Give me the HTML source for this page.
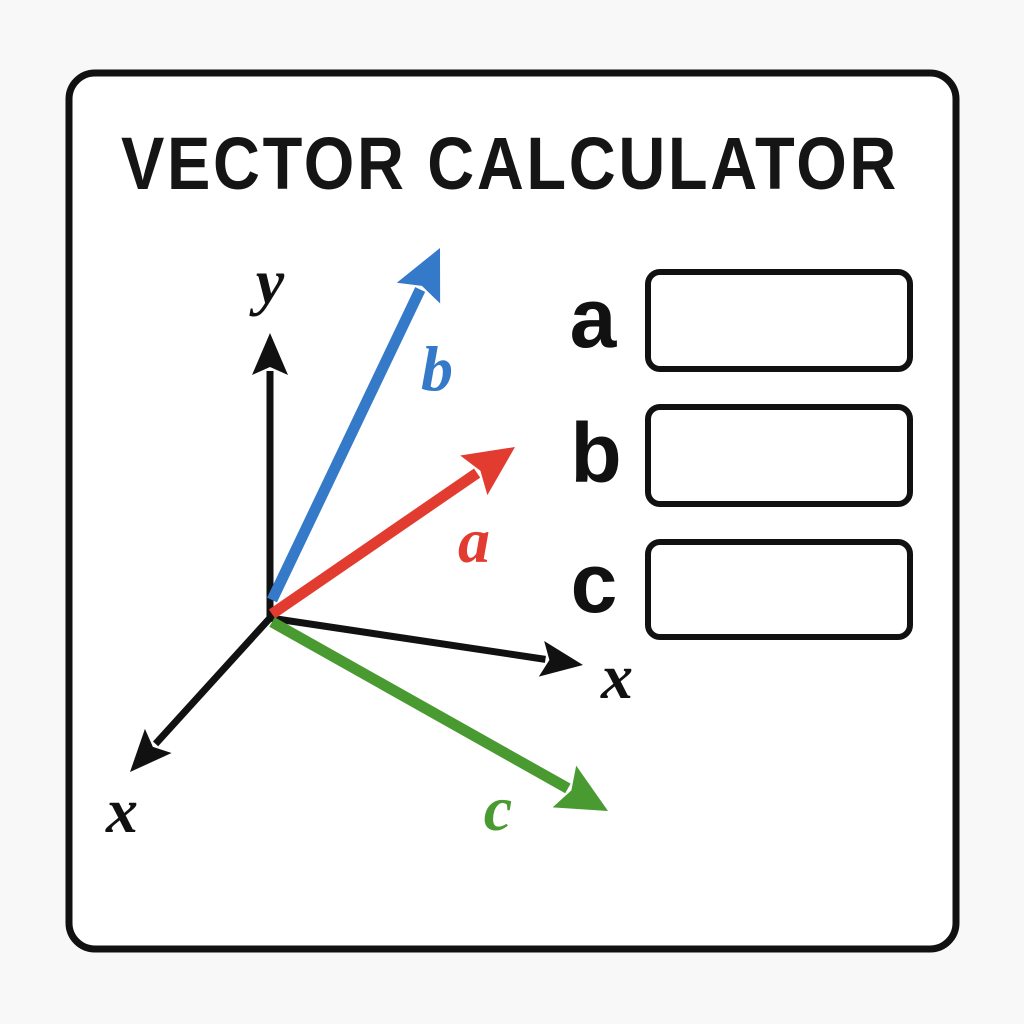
<!DOCTYPE html>
<html><head><meta charset="utf-8"><style>
html,body{margin:0;padding:0;background:#f8f8f8;}
svg{display:block}
</style></head><body>
<svg id="svg" width="1024" height="1024" viewBox="0 0 1024 1024">
<rect x="0" y="0" width="1024" height="1024" fill="#f8f8f8"/>
<rect x="69" y="73" width="887" height="876" rx="26" fill="#fff" stroke="#111" stroke-width="7"/>
<text x="510" y="189" text-anchor="middle" font-family="Liberation Sans, sans-serif" font-weight="bold" font-size="74" letter-spacing="3" textLength="778" lengthAdjust="spacingAndGlyphs" fill="#151515">VECTOR CALCULATOR</text>
<g id="vecs"></g>
<g>
<text x="593" y="347" text-anchor="middle" font-family="Liberation Sans, sans-serif" font-weight="bold" font-size="84" fill="#111">a</text>
<rect x="648" y="272" width="262" height="97" rx="12" fill="#fff" stroke="#111" stroke-width="6"/>
</g>
<g>
<text x="596" y="482" text-anchor="middle" font-family="Liberation Sans, sans-serif" font-weight="bold" font-size="84" fill="#111">b</text>
<rect x="648" y="407" width="262" height="97" rx="12" fill="#fff" stroke="#111" stroke-width="6"/>
</g>
<g>
<text x="594" y="612" text-anchor="middle" font-family="Liberation Sans, sans-serif" font-weight="bold" font-size="84" fill="#111">c</text>
<rect x="648" y="542" width="262" height="95" rx="12" fill="#fff" stroke="#111" stroke-width="6"/>
</g>
</svg>
<script>
const vecNames = ['y-axis','x-axis-right','x-axis-left','vector-b','vector-a','vector-c'];
const vecStart = [[270,618],[270,618],[270,618],[272,600],[272,614],[272,622]];
const vecEnd = [[270,333],[583,665],[130,772],[440,248],[515,447],[608,811]];
const vecColor = ['#111','#111','#111','#3579c9','#e23c30','#4a9a32'];
const vecWidth = [7,7,7,11,11,11];
const lblText = ['y','x','x','b','a','c'];
const lblPos = [[270,303],[617,698],[122,832],[437,390],[474,562],[498,830]];
const NS='http://www.w3.org/2000/svg';
const g=document.getElementById('vecs');
for(let i=0;i<vecNames.length;i++){
  const [x1,y1]=vecStart[i],[x2,y2]=vecEnd[i];
  const dx=x2-x1,dy=y2-y1,L=Math.hypot(dx,dy),ux=dx/L,uy=dy/L;
  const hl=i<3?42:50,hw=i<3?18:24;
  const bx=x2-ux*hl,by=y2-uy*hl;
  const line=document.createElementNS(NS,'line');
  line.setAttribute('x1',x1);line.setAttribute('y1',y1);
  line.setAttribute('x2',bx+ux*4);line.setAttribute('y2',by+uy*4);
  line.setAttribute('stroke',vecColor[i]);line.setAttribute('stroke-width',vecWidth[i]);
  
  
  g.appendChild(line);
  const head=document.createElementNS(NS,'polygon');
  head.setAttribute('points',`${x2},${y2} ${bx-uy*hw},${by+ux*hw} ${bx+ux*8},${by+uy*8} ${bx+uy*hw},${by-ux*hw}`);
  head.setAttribute('fill',vecColor[i]);
  
  
  g.appendChild(head);
  const t=document.createElementNS(NS,'text');
  t.setAttribute('x',lblPos[i][0]);t.setAttribute('y',lblPos[i][1]);
  t.setAttribute('text-anchor','middle');
  t.setAttribute('font-family','Liberation Serif, serif');
  t.setAttribute('font-style','italic');t.setAttribute('font-weight','bold');
  t.setAttribute('font-size','64');t.setAttribute('fill',vecColor[i]);
  t.textContent=lblText[i];
  
  
  g.appendChild(t);
}
</script>
</body></html>
